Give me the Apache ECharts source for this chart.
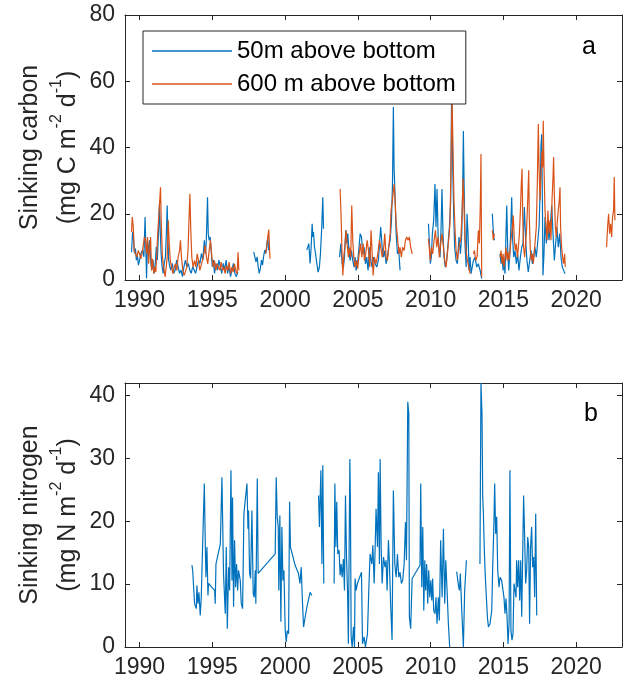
<!DOCTYPE html>
<html>
<head>
<meta charset="utf-8">
<script src="https://cdn.jsdelivr.net/npm/echarts@6/dist/echarts.min.js"></script>
<style>
  html, body { margin: 0; padding: 0; background: #fff; }
  #chart { width: 629px; height: 683px; }
</style>
</head>
<body>
<div id="chart"></div>
<script>
// Sinking particle flux time series; null marks a break between deployments.
// Points are [decimal year, flux].

// Sinking carbon, trap 50 m above bottom (mg C m-2 d-1)
const carbon50m = [
  [1989.45,8.4],[1989.52,14.5],[1989.58,13],[1989.65,8],[1989.72,9.5],[1989.78,6],[1989.85,7.5],[1989.92,4.5],
  [1990.0,6],[1990.1,8],[1990.2,9],[1990.3,7],[1990.38,19],[1990.43,10],[1990.48,0.5],[1990.55,12],[1990.62,8],
  [1990.7,12],[1990.78,5],[1990.85,3],[1990.92,6],[1991.0,2],[1991.08,5],[1991.15,10],[1991.22,6],[1991.3,14],
  [1991.37,23],[1991.42,15],[1991.48,8],[1991.55,4],[1991.62,2],[1991.7,5],[1991.78,7],[1991.85,15],[1991.9,22.5],
  [1991.95,12],[1992.0,6],[1992.08,4],[1992.15,3],[1992.25,5],[1992.35,2],[1992.45,3],[1992.55,6],[1992.65,4],
  [1992.75,2],[1992.85,3],[1992.95,1],[1993.05,4],[1993.15,6],[1993.25,4],[1993.35,5],[1993.45,3],[1993.55,2],
  [1993.65,4],[1993.75,3],[1993.85,2],[1993.95,4],[1994.05,6],[1994.15,5],[1994.25,8],[1994.35,6],[1994.45,12],
  [1994.52,8],[1994.58,11],[1994.67,25],[1994.72,14],[1994.78,12],[1994.85,13],[1994.92,9],[1995.0,4],[1995.08,6],
  [1995.15,2],[1995.25,5],[1995.35,3],[1995.45,6],[1995.55,4],[1995.65,2],[1995.75,5],[1995.85,3],[1995.95,6],
  [1996.05,2],[1996.15,4],[1996.25,1],[1996.35,3],[1996.45,5],[1996.55,2],[1996.65,1],[1996.75,2.5],
  null,
  [1997.85,8.5],[1997.92,7],[1998.0,5.5],[1998.08,7],[1998.15,4],[1998.22,2],[1998.3,3.5],[1998.38,6],[1998.45,4.5],
  [1998.52,7],[1998.6,9],[1998.68,8],[1998.75,11],[1998.82,13],[1998.86,9],
  null,
  [2001.49,9],[2001.56,10],[2001.63,11],[2001.72,5],[2001.79,10],[2001.86,17],[2001.91,13],[2001.95,14.5],
  [2002.02,10],[2002.09,8],[2002.18,5],[2002.27,2.4],[2002.36,4],[2002.43,8],[2002.52,16],[2002.59,25],[2002.64,15.5],
  null,
  [2003.74,6.9],[2003.83,11],[2003.92,4.9],[2004.01,3.9],[2004.08,6.9],[2004.17,15],[2004.24,11],[2004.31,14],
  [2004.40,7.9],[2004.47,5.9],[2004.56,8.9],[2004.65,5.9],[2004.74,3.9],[2004.81,6.9],[2004.88,2.9],[2004.97,4.9],
  [2005.06,8.9],[2005.16,14],[2005.25,13],[2005.34,7.9],[2005.43,9.9],[2005.52,4.9],[2005.61,6.9],[2005.70,2.9],
  [2005.80,9.9],[2005.89,5.9],[2005.98,3.9],[2006.07,6.9],[2006.19,4.9],[2006.30,3.9],[2006.41,5.9],[2006.57,16],
  [2006.67,9.9],[2006.76,6.9],[2006.85,8.9],[2006.94,4.9],[2007.03,6.9],[2007.12,9.9],[2007.22,12],[2007.31,18],
  [2007.38,29],[2007.44,52.2],[2007.49,34],[2007.56,25],[2007.63,14],[2007.72,7.9],[2007.81,8.9],[2007.90,2.9],
  null,
  [2009.85,17],[2009.92,11],[2009.98,4.9],[2010.05,6.9],[2010.12,14],[2010.21,18],[2010.30,29],[2010.37,16],
  [2010.44,27.5],[2010.51,14],[2010.58,8.9],[2010.65,6.9],[2010.72,16],[2010.78,27.5],[2010.85,14],[2010.92,6.9],
  [2011.01,3.9],[2011.10,5.9],[2011.20,11],[2011.29,16],[2011.38,24],[2011.45,61],[2011.52,34],[2011.59,19],
  [2011.65,9.9],[2011.75,5.9],[2011.84,4.9],[2011.95,13],[2012.05,7.9],[2012.14,14],[2012.21,29],[2012.25,45],
  [2012.30,29],[2012.37,9.9],[2012.44,3.9],[2012.50,20],[2012.57,14],[2012.64,2.9],[2012.71,6.9],[2012.78,1.9],
  [2012.94,5.9],[2013.05,6.9],[2013.17,3.9],[2013.28,4.9],[2013.40,2.9],[2013.51,0.4],
  null,
  [2014.24,20],[2014.29,16],[2014.33,13],[2014.38,12],
  null,
  [2014.77,7.9],[2014.84,4.9],[2014.91,6.9],[2014.98,2.9],[2015.04,5.9],[2015.11,1.9],[2015.18,14],[2015.23,22.5],
  [2015.30,8.9],[2015.36,2.9],[2015.43,6.9],[2015.50,14],[2015.57,25],[2015.64,12],[2015.71,6.9],[2015.80,8.9],
  [2015.89,4.9],[2015.98,7.9],[2016.07,2.9],[2016.17,6.9],[2016.26,9.9],[2016.35,11],[2016.44,22],[2016.53,12],
  [2016.62,5.9],[2016.71,2.4],[2016.81,5.9],[2016.90,8.9],[2016.99,4.9],[2017.08,6.9],[2017.17,9.9],[2017.26,6.9],
  [2017.35,11],[2017.45,16],[2017.54,29],[2017.58,40],[2017.63,44],[2017.68,24],[2017.72,1.4],[2017.79,7.9],
  [2017.86,19],[2017.95,11],[2018.04,18],[2018.13,12],[2018.22,16],[2018.32,22.5],[2018.41,14],[2018.50,5.9],
  [2018.59,11],[2018.68,16],[2018.77,9.9],[2018.87,14],[2018.96,6.9],[2019.05,3.9],[2019.14,2.9],[2019.23,1.9]
];

// Sinking carbon, trap 600 m above bottom (mg C m-2 d-1)
const carbon600m = [
  [1989.45,14.5],[1989.50,19],[1989.57,16],[1989.63,8.9],[1989.73,7.9],[1989.82,6.9],[1989.91,8.9],[1990.00,7.9],
  [1990.09,6.4],[1990.18,8.4],[1990.27,11],[1990.34,13],[1990.41,12],[1990.48,7.9],[1990.55,13],[1990.62,4.9],
  [1990.69,8.9],[1990.76,13],[1990.82,2.9],[1990.89,6.4],[1990.98,1.9],[1991.05,3.9],[1991.12,2.4],[1991.19,8.9],
  [1991.26,15],[1991.33,20],[1991.40,25],[1991.44,28],[1991.49,18],[1991.56,7.9],[1991.62,4.9],[1991.69,2.9],
  [1991.76,0.9],[1991.83,3.9],[1991.90,6.9],[1991.97,18],[1992.04,11],[1992.11,5.9],[1992.20,3.9],[1992.29,1.9],
  [1992.38,3.9],[1992.47,4.9],[1992.56,2.9],[1992.65,6.9],[1992.75,8.9],[1992.81,12],[1992.88,6.9],[1992.97,2.9],
  [1993.07,1.4],[1993.16,0.9],[1993.25,3.9],[1993.34,9.9],[1993.41,20],[1993.46,26],[1993.52,15],[1993.59,6.9],
  [1993.68,3.9],[1993.78,5.9],[1993.87,3.9],[1993.96,7.9],[1994.05,5.9],[1994.14,2.9],[1994.23,4.4],[1994.32,5.9],
  [1994.42,7.9],[1994.51,10.5],[1994.60,6.9],[1994.69,4.9],[1994.78,8.9],[1994.87,12],[1994.97,6.9],[1995.06,3.9],
  [1995.15,5.9],[1995.24,2.9],[1995.33,4.9],[1995.42,3.9],[1995.51,2.9],[1995.61,5.4],[1995.70,2.9],[1995.79,3.9],
  [1995.88,1.9],[1995.97,4.4],[1996.06,2.9],[1996.16,5.4],[1996.25,1.9],[1996.34,3.9],[1996.43,2.4],[1996.52,4.9],
  [1996.61,2.9],[1996.70,1.9],[1996.77,8.4],[1996.82,2.9],
  null,
  [1998.65,8],[1998.74,10],[1998.81,13],[1998.88,15.2],[1998.92,11],[1998.96,6.4],
  null,
  [2003.78,27.5],[2003.85,19],[2003.92,6.9],[2003.97,1.4],[2004.03,6.9],[2004.10,9.9],[2004.19,15],[2004.26,11],
  [2004.35,6.9],[2004.42,9.9],[2004.51,6.9],[2004.58,22.5],[2004.65,12],[2004.72,6.9],[2004.81,3.9],[2004.90,5.9],
  [2004.99,3.4],[2005.09,7.9],[2005.18,11],[2005.27,6.9],[2005.36,11],[2005.45,5.9],[2005.54,7.9],[2005.64,12],
  [2005.73,8.9],[2005.82,3.9],[2005.91,15],[2005.98,15.5],[2006.05,1.4],[2006.14,6.9],[2006.25,4.9],[2006.37,7.9],
  [2006.48,12],[2006.57,9.9],[2006.67,6.9],[2006.76,8.9],[2006.85,14],[2006.94,6.9],[2007.03,5.9],[2007.12,9.9],
  [2007.22,14],[2007.28,21],[2007.35,23],[2007.42,26],[2007.49,29],[2007.56,24],[2007.63,17],[2007.70,14],
  [2007.76,11],[2007.83,7.9],[2007.90,9.9],[2007.99,6.9],[2008.08,9.9],[2008.18,8.9],[2008.27,12],[2008.36,13],
  [2008.45,12],[2008.54,13],[2008.63,9.9],[2008.73,7.9],
  null,
  [2009.85,12.5],[2009.92,8.9],[2009.98,5.9],[2010.05,9.9],[2010.14,7.9],[2010.24,12],[2010.33,15],[2010.42,9.9],
  [2010.51,13],[2010.60,6.9],[2010.69,11],[2010.78,14],[2010.88,9.9],[2010.97,5.9],[2011.06,3.9],[2011.15,7.9],
  [2011.24,12],[2011.33,17],[2011.40,34],[2011.47,56],[2011.54,39],[2011.61,23],[2011.68,15],[2011.75,8.9],
  [2011.84,5.9],[2011.89,7.9],[2011.98,11],[2012.07,12],[2012.16,20],[2012.23,30.6],[2012.30,21],[2012.37,12],
  [2012.44,8.9],[2012.53,5.9],[2012.62,3.9],[2012.71,1.9],
  null,
  [2012.94,7.9],[2013.01,8.9],[2013.10,5.9],[2013.19,6.9],[2013.28,15],[2013.35,11],[2013.42,24],[2013.46,38],
  [2013.51,0.9],
  null,
  [2014.24,15],[2014.31,12],[2014.38,14],
  null,
  [2014.77,6.9],[2014.84,8.9],[2014.91,4.9],[2014.98,7.9],[2015.04,3.9],[2015.11,6.9],[2015.18,9.9],[2015.25,5.9],
  [2015.32,8.4],[2015.39,5.9],[2015.46,8.9],[2015.52,12],[2015.62,16],[2015.68,19.5],[2015.75,12],[2015.82,8.9],
  [2015.89,11],[2015.96,6.9],[2016.03,9.9],[2016.10,14],[2016.17,21],[2016.23,29],[2016.28,33.6],[2016.33,19],
  [2016.39,9.9],[2016.46,6.9],[2016.53,11],[2016.60,16],[2016.67,24],[2016.74,33.1],[2016.78,19],[2016.85,8.9],
  [2016.92,5.9],[2016.99,7.9],[2017.06,4.9],[2017.13,8.9],[2017.19,12],[2017.26,16],[2017.33,29],[2017.40,47.1],
  [2017.45,34],[2017.52,24],[2017.58,31],[2017.65,39],[2017.70,34],[2017.74,48.1],[2017.79,34],[2017.86,21],
  [2017.93,16],[2018.00,12],[2018.06,21],[2018.13,14],[2018.20,18],[2018.27,12],[2018.34,24],[2018.41,31],
  [2018.45,37.1],[2018.50,26],[2018.57,16],[2018.64,13],[2018.71,18],[2018.77,21],[2018.84,24],[2018.89,28],
  [2018.93,16],[2019.00,9.9],[2019.07,6.9],[2019.14,4.9],[2019.21,7.9],[2019.25,3.9],
  null,
  [2022.09,9.9],[2022.16,16],[2022.23,20],[2022.30,14],[2022.37,17],[2022.44,13],[2022.50,19],[2022.57,21],
  [2022.62,31.1],[2022.66,18]
];

// Sinking nitrogen (mg N m-2 d-1)
const nitrogen = [
  [1993.60,13],[1993.65,12.2],[1993.78,6.9],[1993.90,6.1],[1993.94,9.8],[1994.01,6.9],[1994.08,8.7],[1994.17,5],
  [1994.24,7.9],[1994.33,15.9],[1994.45,26],[1994.52,15.9],[1994.56,11.1],[1994.63,15.9],[1994.70,8.2],[1994.74,10.1],
  [1994.97,9.5],[1995.16,9],[1995.20,6.9],[1995.25,13.2],[1995.32,13],[1995.55,16.4],[1995.66,27],[1995.77,11.7],
  [1995.89,5.3],[1995.96,15.9],[1996.03,2.9],[1996.12,12.7],[1996.19,9],[1996.28,28.1],[1996.35,10.6],[1996.39,23.8],
  [1996.46,6.4],[1996.53,17],[1996.60,9.5],[1996.67,13.2],[1996.74,9],[1996.80,12.2],[1996.92,10.6],[1996.99,6.9],
  [1997.08,6.1],[1997.17,21.2],[1997.26,23.3],[1997.38,26],[1997.45,18.8],[1997.49,21.7],[1997.56,11.7],[1997.63,10.9],
  [1997.72,21.7],[1997.81,8.5],[1997.88,7.9],[1997.95,12.2],[1997.99,6.9],[1998.09,26.8],[1998.15,11.7],[1998.22,11.9],
  [1999.32,14.8],[1999.39,27],[1999.46,20.7],[1999.53,19.1],[1999.57,9],[1999.64,20.9],[1999.71,4],[1999.78,19.1],
  [1999.85,10.6],[1999.92,12.2],[2000.01,2.6],[2000.08,0.8],[2000.15,2.6],[2000.24,2.1],[2000.31,23.1],[2000.37,15.9],
  [2000.69,13],[2000.92,11.7],[2001.02,10.1],[2001.11,12.7],[2001.18,7.9],[2001.27,3.2],[2001.50,6.4],[2001.72,8.7],
  [2001.84,8.2],
  null,
  [2002.30,24.1],[2002.36,19.1],[2002.46,28.1],[2002.53,13.2],[2002.59,28.9],[2002.66,10.1],
  null,
  [2003.37,10.1],[2003.42,26],[2003.49,15.9],[2003.55,23.1],[2003.62,14.8],[2003.71,15.4],[2003.78,11.4],[2003.85,13.2],
  [2003.92,11.1],[2004.01,14],[2004.08,9],[2004.15,24.1],[2004.22,14.3],[2004.29,9],[2004.35,0.5],[2004.45,29.9],
  [2004.49,22.3],[2004.54,1.6],[2004.61,0],[2004.70,3.2],[2004.77,0],[2004.81,10.9],[2004.88,9],[2004.97,10.1],
  [2005.25,11.9],[2005.32,0.5],[2005.43,1.6],[2005.52,0],[2005.66,2.1],[2005.75,9],[2005.84,14.8],[2005.96,13.2],
  [2006.03,16.2],[2006.12,10.1],[2006.19,15.9],[2006.25,22],[2006.35,15.9],[2006.41,27.8],[2006.48,13.2],[2006.53,29.9],
  [2006.60,15.9],[2006.67,10.1],[2006.76,14.3],[2006.87,12.7],[2006.94,13.8],[2007.01,9],[2007.10,17],[2007.17,13.2],
  [2007.26,6.4],[2007.35,1.1],[2007.44,24.9],[2007.54,13.2],[2007.63,11.1],[2007.72,14.8],[2007.81,11.1],[2007.90,11.9],
  [2007.99,10.1],[2008.08,10.6],[2008.18,13.2],[2008.27,19.9],[2008.34,13.8],[2008.43,39],[2008.50,37.1],[2008.54,4.8],
  [2008.63,2.9],[2008.73,10.9],[2009.27,13],[2009.32,26],[2009.39,9.5],[2009.46,19.1],[2009.53,5.8],[2009.60,13.8],
  [2009.66,9],[2009.73,13.2],[2009.80,6.9],[2009.87,12.2],[2009.94,7.9],[2010.01,10.6],[2010.08,7.4],[2010.14,10.9],
  [2010.21,5.8],[2010.30,5.3],[2010.37,7.9],[2010.44,3.7],[2010.53,7.9],[2010.60,4.2],[2010.69,17],[2010.79,7.9],
  [2010.88,18.8],[2010.97,6.9],[2011.04,13.8],[2011.13,9],[2011.22,3.7],[2011.31,0],
  null,
  [2011.79,12],[2011.84,11.1],[2011.91,9.8],[2011.98,9],[2012.04,11.7],[2012.14,5.8],[2012.25,0],[2012.34,9],
  [2012.46,13.8],
  null,
  [2013.39,13.2],[2013.46,42],[2013.53,37.1],[2013.58,23.8],[2013.62,21.7],[2013.69,15.4],[2013.76,11.1],[2013.83,7.9],
  [2013.90,4.8],[2013.97,3.2],[2014.08,3.7],[2014.20,5.8],[2014.26,12.2],[2014.36,20.7],[2014.40,26],[2014.47,18],
  [2014.54,20.7],[2014.61,12.2],[2014.70,9.5],[2014.77,11.1],[2014.88,10.6],[2014.95,10.9],[2015.04,7.9],[2015.11,5.3],
  [2015.18,7.7],[2015.25,4.8],[2015.32,0.5],[2015.39,3.7],[2015.45,28.1],[2015.52,2.6],[2015.59,1.1],[2015.66,2.1],
  [2015.73,10.1],[2015.80,10.1],[2015.87,7.9],[2015.91,13.8],[2015.98,9.5],[2016.05,13.8],[2016.12,7.4],[2016.19,13.8],
  [2016.26,4.8],[2016.32,13.8],[2016.39,24.1],[2016.46,17.5],[2016.53,10.1],[2016.60,12.2],[2016.67,17.5],[2016.74,15.9],
  [2016.80,3.7],[2016.87,15.9],[2016.94,19.1],[2017.01,12.7],[2017.08,14.3],[2017.15,7.9],[2017.22,21.2],[2017.29,5]
];

// Axis ticks
const yearTicks = [1990, 1995, 2000, 2005, 2010, 2015, 2020];
const carbonTicks = [0, 20, 40, 60, 80];
const nitrogenTicks = [0, 10, 20, 30, 40];

const legendNames = ['50m above bottom', '600 m above bottom'];

const FONT = '"Liberation Sans", Arial, Helvetica, sans-serif';
const INK = '#262626';
const BLUE = '#0072BD';
const ORANGE = '#D95319';
const YEAR_MIN = 1989;
const YEAR_MAX = 2023.15;

const toPoints = arr => arr.map(p => (p === null ? ['-', '-'] : p));

function xAxisFor(gridIndex, position) {
  const labelled = position === 'bottom';
  return {
    type: 'value', gridIndex, position, min: YEAR_MIN, max: YEAR_MAX,
    axisLine: { show: true, onZero: false, lineStyle: { color: INK, width: 1 } },
    axisTick: { show: true, inside: true, length: 5, customValues: yearTicks, lineStyle: { color: INK, width: 1 } },
    axisLabel: {
      show: labelled, customValues: yearTicks, margin: 9, color: INK, fontSize: 23, fontFamily: FONT,
      formatter: v => String(v)
    },
    splitLine: { show: false }
  };
}

function yAxisFor(gridIndex, position, max, ticks, name) {
  const labelled = position === 'left';
  const ax = {
    type: 'value', gridIndex, position, min: 0, max,
    axisLine: { show: true, onZero: false, lineStyle: { color: INK, width: 1 } },
    axisTick: { show: true, inside: true, length: 5, customValues: ticks, lineStyle: { color: INK, width: 1 } },
    axisLabel: {
      show: labelled, customValues: ticks, margin: 10,
      color: INK, fontSize: 23, fontFamily: FONT,
      formatter: v => String(v)
    },
    splitLine: { show: false }
  };
  if (name) {
    ax.name = name;
    ax.nameLocation = 'middle';
    ax.nameRotate = 90;
    ax.nameGap = 38;
    ax.nameMoveOverlap = false;
    ax.nameTextStyle = {
      color: INK, fontFamily: FONT, fontSize: 25, lineHeight: 38, align: 'center',
      rich: {
        t: { fontSize: 25, lineHeight: 38, fontFamily: FONT, color: INK },
        s: { fontSize: 16, lineHeight: 22, verticalAlign: 'top', fontFamily: FONT, color: INK }
      }
    };
  }
  return ax;
}

const lineSeries = (name, data, color, xi, yi) => ({
  name, type: 'line', xAxisIndex: xi, yAxisIndex: yi,
  data: toPoints(data), symbol: 'none', showSymbol: false, connectNulls: false,
  lineStyle: { width: 1.2, color }, itemStyle: { color },
  animation: false, clip: true, z: 2
});

const chart = echarts.init(document.getElementById('chart'), null, { renderer: 'canvas' });
chart.setOption({
  backgroundColor: '#ffffff',
  animation: false,
  grid: [
    { left: 125, top: 15, width: 497, height: 265, show: false },
    { left: 125, top: 383, width: 497, height: 264, show: false }
  ],
  xAxis: [
    xAxisFor(0, 'bottom'), xAxisFor(0, 'top'),
    xAxisFor(1, 'bottom'), xAxisFor(1, 'top')
  ],
  yAxis: [
    yAxisFor(0, 'left', 80, carbonTicks, '{t|Sinking carbon}\n{t|(mg C m}{s|-2}{t| d}{s|-1}{t|)}'),
    yAxisFor(0, 'right', 80, carbonTicks),
    yAxisFor(1, 'left', 42, nitrogenTicks, '{t|Sinking nitrogen}\n{t|(mg N m}{s|-2}{t| d}{s|-1}{t|)}'),
    yAxisFor(1, 'right', 42, nitrogenTicks)
  ],
  legend: {
    data: legendNames.map((n, i) => ({ name: n, icon: 'rect', itemStyle: { color: i ? ORANGE : BLUE } })),
    orient: 'vertical',
    left: 143, top: 31,
    padding: [8, 10, 8, 9],
    itemWidth: 80, itemHeight: 1.3, itemGap: 9,
    backgroundColor: '#ffffff',
    borderColor: INK, borderWidth: 1, borderRadius: 0,
    textStyle: { fontSize: 24, lineHeight: 24, fontFamily: FONT, color: '#000' },
    selectedMode: false,
    z: 10
  },
  graphic: [
    { type: 'text', x: 582, y: 47, style: { text: 'a', font: '25px "Liberation Sans", Arial, sans-serif', fill: '#000', align: 'left', verticalAlign: 'middle' }, z: 20 },
    { type: 'text', x: 584, y: 414, style: { text: 'b', font: '25px "Liberation Sans", Arial, sans-serif', fill: '#000', align: 'left', verticalAlign: 'middle' }, z: 20 }
  ],
  series: [
    lineSeries(legendNames[0], carbon50m, BLUE, 0, 0),
    lineSeries(legendNames[1], carbon600m, ORANGE, 0, 0),
    lineSeries('Sinking nitrogen', nitrogen, BLUE, 2, 2)
  ]
});
</script>
</body>
</html>
